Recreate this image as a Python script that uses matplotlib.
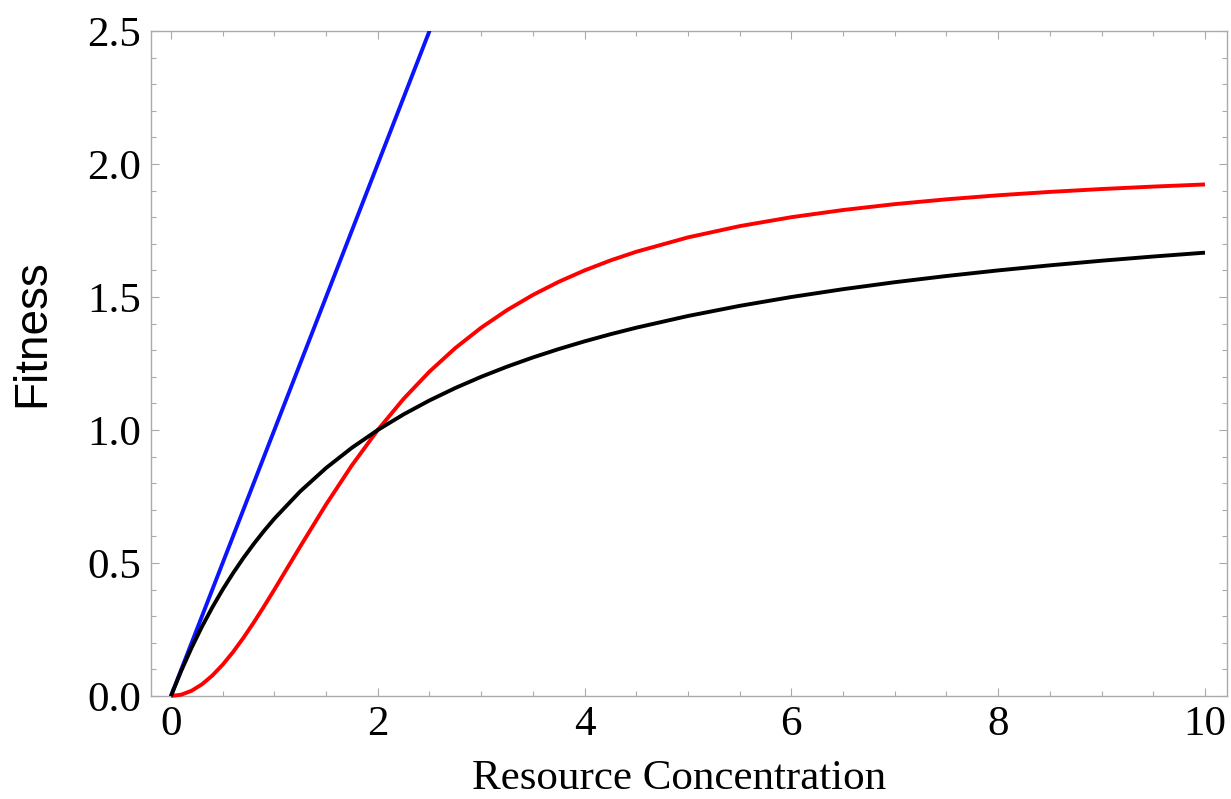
import matplotlib
matplotlib.use("Agg")
import matplotlib.pyplot as plt
from matplotlib.ticker import MultipleLocator, FormatStrFormatter

# Resource concentration sample points
conc = [0, 0.1, 0.2, 0.3, 0.4, 0.5, 0.6, 0.7, 0.8, 0.9, 1.0, 1.25, 1.5, 1.75,
        2.0, 2.25, 2.5, 2.75, 3.0, 3.25, 3.5, 3.75, 4.0, 4.25, 4.5, 5.0, 5.5,
        6.0, 6.5, 7.0, 7.5, 8.0, 8.5, 9.0, 9.5, 10.0]

# Saturating (type II) response
fitness_saturating = [0.0, 0.0952, 0.1818, 0.2609, 0.3333, 0.4, 0.4615, 0.5185,
                      0.5714, 0.6207, 0.6667, 0.7692, 0.8571, 0.9333, 1.0, 1.0588,
                      1.1111, 1.1579, 1.2, 1.2381, 1.2727, 1.3043, 1.3333, 1.36,
                      1.3846, 1.4286, 1.4667, 1.5, 1.5294, 1.5556, 1.5789, 1.6,
                      1.619, 1.6364, 1.6522, 1.6667]

# Sigmoidal (type III) response
fitness_sigmoidal = [0.0, 0.005, 0.0198, 0.044, 0.0769, 0.1176, 0.1651, 0.2183,
                     0.2759, 0.3368, 0.4, 0.5618, 0.72, 0.8673, 1.0, 1.1172,
                     1.2195, 1.3081, 1.3846, 1.4506, 1.5077, 1.5571, 1.6, 1.6374,
                     1.6701, 1.7241, 1.7664, 1.8, 1.827, 1.8491, 1.8672, 1.8824,
                     1.8951, 1.9059, 1.9151, 1.9231]

# Linear (type I) response
conc_linear = [0.0, 10.0]
fitness_linear = [0.0, 10.0]

W, H = 1231, 799
fig = plt.figure(figsize=(W / 100, H / 100), dpi=100)
ax = fig.add_axes([151 / W, 1 - 696 / H, (1227 - 151) / W, (696 - 31) / H])

lw = 2.8
ax.plot(conc_linear, fitness_linear, color="#0a14ff", lw=lw, zorder=3)
ax.plot(conc, fitness_saturating, color="black", lw=lw, zorder=4, clip_on=False,
        solid_capstyle="butt", solid_joinstyle="round")
ax.plot(conc, fitness_sigmoidal, color="#ff0000", lw=lw, zorder=3, clip_on=False,
        solid_capstyle="butt", solid_joinstyle="round")

ax.set_xlim(-0.193, 10.213)
ax.set_ylim(0, 2.5)

frame_col = "#aaaaaa"
for sp in ax.spines.values():
    sp.set_color(frame_col)
    sp.set_linewidth(1.0)

ax.xaxis.set_major_locator(MultipleLocator(2))
ax.xaxis.set_minor_locator(MultipleLocator(0.5))
ax.yaxis.set_major_locator(MultipleLocator(0.5))
ax.yaxis.set_minor_locator(MultipleLocator(0.1))
ax.yaxis.set_major_formatter(FormatStrFormatter("%.1f"))
ax.xaxis.set_major_formatter(FormatStrFormatter("%d"))

ax.tick_params(which="both", direction="in", top=True, right=True,
               color=frame_col, width=0.8)
ax.tick_params(which="major", length=5.8, labelsize=31, pad=7)
ax.tick_params(which="minor", length=3.6)
for lab in ax.get_xticklabels() + ax.get_yticklabels():
    lab.set_fontfamily("Liberation Serif")

fig.text(679 / W, 10 / H, "Resource Concentration", ha="center", va="baseline",
         fontsize=31, family="Liberation Serif")
fig.text(32 / W, 1 - 333 / H, "Fitness", ha="center", va="center", rotation=90,
         fontsize=33, family="Liberation Sans")

fig.savefig("out.png", dpi=100)
